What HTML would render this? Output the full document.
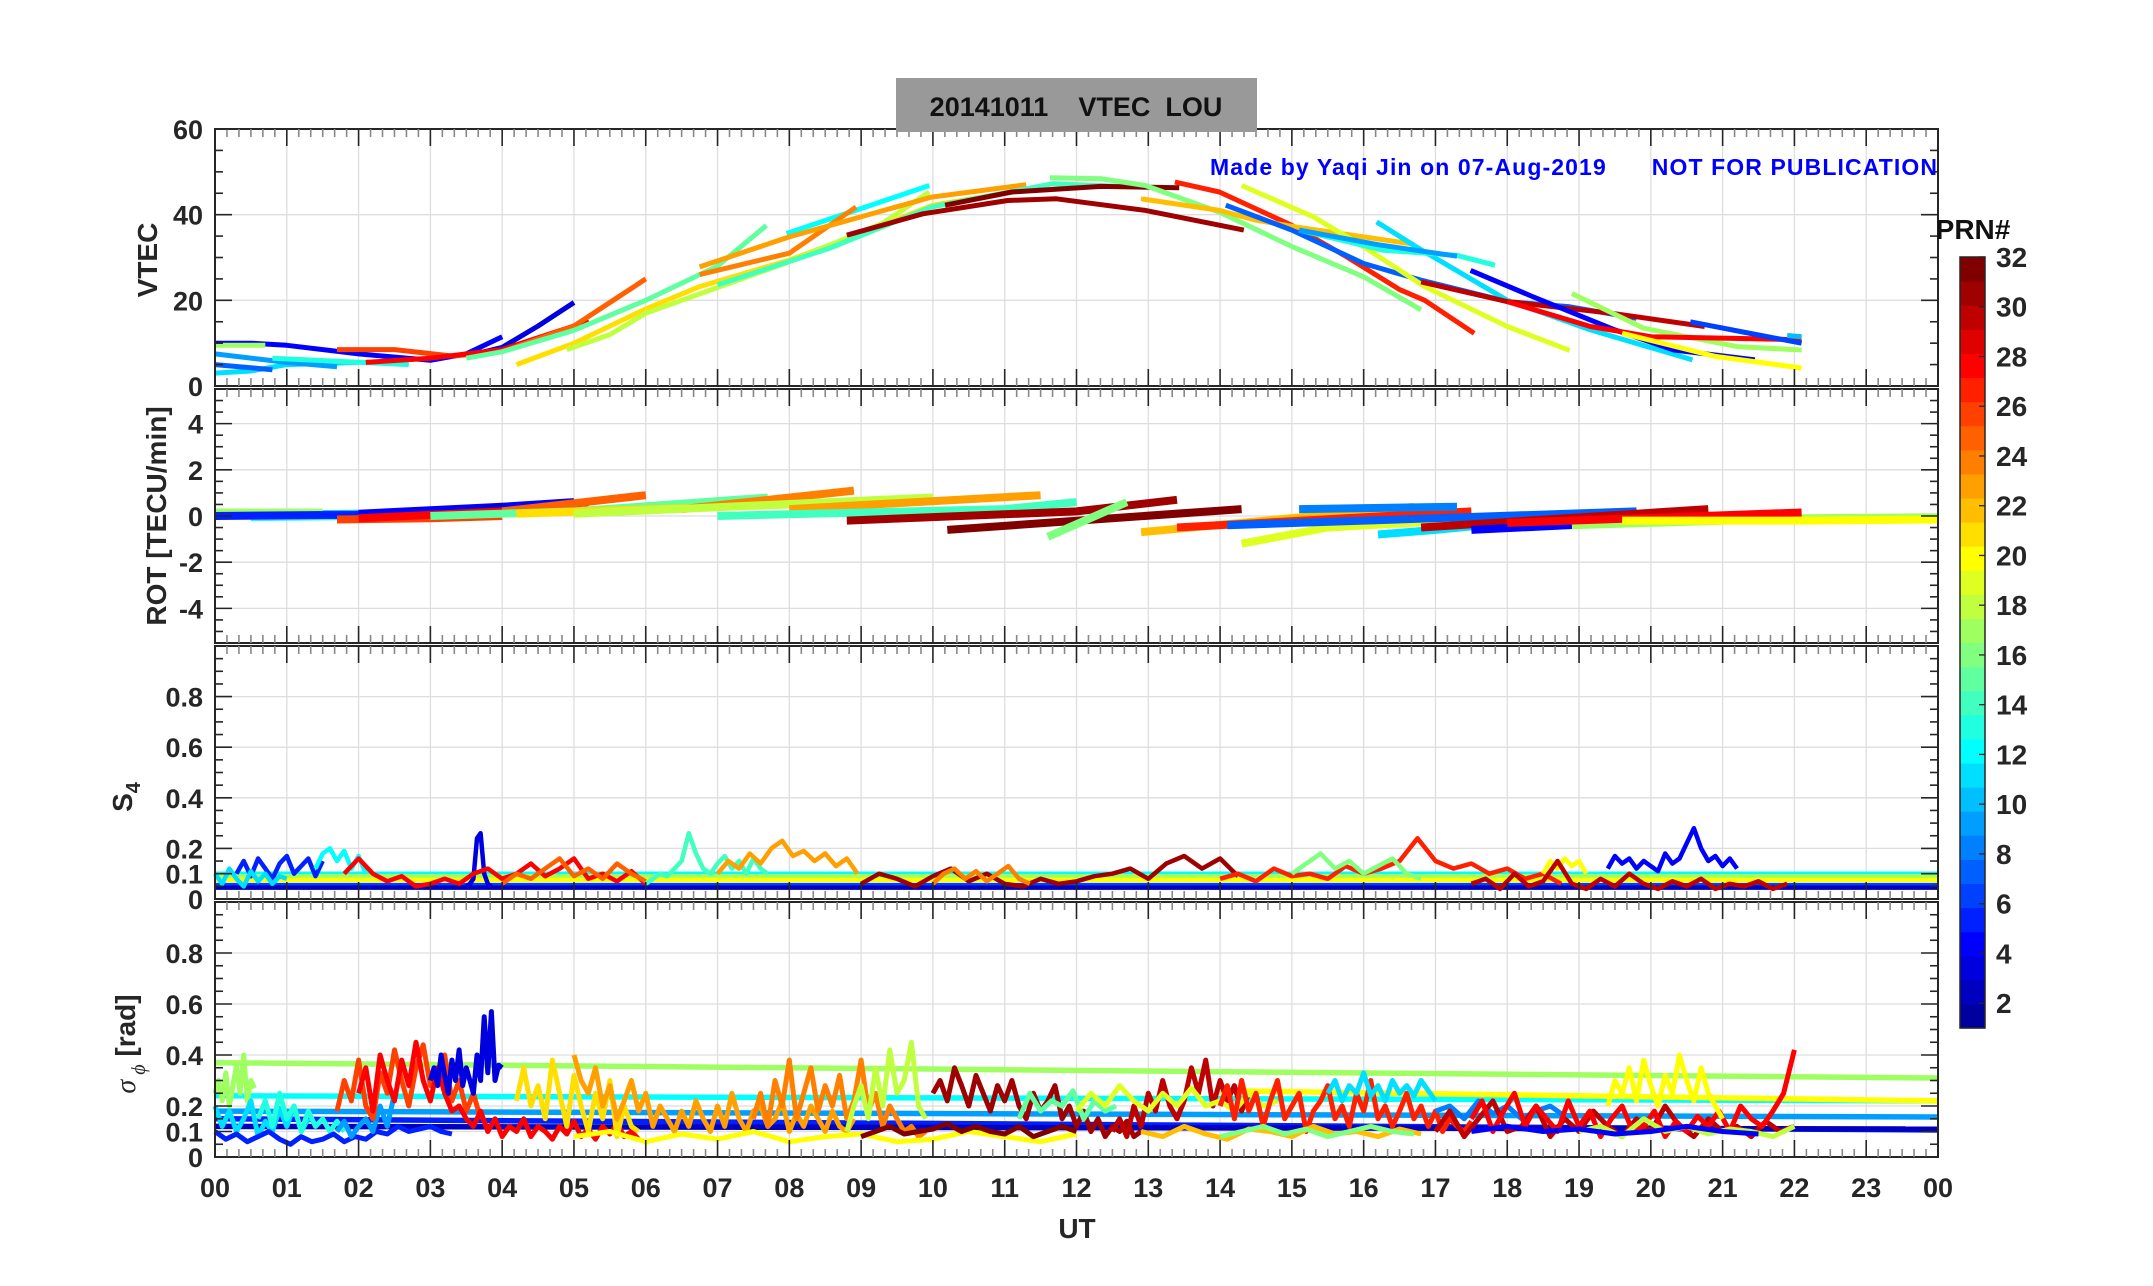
<!DOCTYPE html>
<html><head><meta charset="utf-8"><style>
html,body{margin:0;padding:0;background:#fff;}
svg{display:block;font-family:"Liberation Sans",Arial,sans-serif;}
</style></head><body>
<svg id="fig" width="2153" height="1286" viewBox="0 0 2153 1286" xmlns="http://www.w3.org/2000/svg">
<rect x="0" y="0" width="2153" height="1286" fill="#fff"/>
<g id="grid"></g><g id="series"></g><g id="axes"></g>
<rect x="896" y="78" width="361" height="54" fill="#999999"/>
<text x="1076" y="116" text-anchor="middle" font-size="27" font-weight="bold" fill="#111" xml:space="preserve">20141011    VTEC  LOU</text>
<text x="1937" y="175" text-anchor="end" font-size="23" font-weight="bold" fill="#0000ff" xml:space="preserve" textLength="727">Made by Yaqi Jin on 07-Aug-2019      NOT FOR PUBLICATION</text>
<text x="1973" y="239" text-anchor="middle" font-size="28" font-weight="bold" fill="#111">PRN#</text>
<g id="cbar"></g>
<text transform="translate(157,260) rotate(-90)" text-anchor="middle" font-size="28" font-weight="bold" fill="#262626">VTEC</text>
<text transform="translate(166,516) rotate(-90)" text-anchor="middle" font-size="28" font-weight="bold" fill="#262626">ROT [TECU/min]</text>
<text transform="translate(132,797) rotate(-90)" text-anchor="middle" font-size="28" font-weight="bold" fill="#262626">S<tspan font-size="20" dy="8">4</tspan></text>
<text transform="translate(135,1044) rotate(-90)" text-anchor="middle" font-size="28" font-weight="bold" fill="#262626"><tspan font-family="Liberation Serif,serif" font-style="italic" font-weight="normal">σ</tspan><tspan font-size="20" dy="10" font-family="Liberation Serif,serif" font-style="italic" font-weight="normal"> ϕ</tspan><tspan dy="-10"> [rad]</tspan></text>
<text x="1077" y="1238" text-anchor="middle" font-size="28" font-weight="bold" fill="#262626">UT</text>
</svg>
<script>
const hourTicks=["00","01","02","03","04","05","06","07","08","09","10","11","12","13","14","15","16","17","18","19","20","21","22","23","00"];
const vtecTicks=[0,20,40,60];
const rotTicks=[-4,-2,0,2,4];
const s4Ticks=[0,0.1,0.2,0.4,0.6,0.8];
const sigTicks=[0,0.1,0.2,0.4,0.6,0.8];
const cbarLabels=[2,4,6,8,10,12,14,16,18,20,22,24,26,28,30,32];

const vtecPrn=[4,3,17,11,9,7,13,26,28,25,15,21,18,12,24,23,14,27,31,32,16,22,7,19,11,13,9,8,30,4,17,28,20,6,10];
const vtecPts=[
[[0,10],[0.5,10],[1,9.5],[2,7.5],[3,6],[3.5,7.5],[4,11.5]],
[[3.5,7],[4,9],[4.5,14],[5,19.5]],
[[0,9.5],[0.7,9.5]],
[[0,3],[0.5,3.5],[1,5],[2,5.5]],
[[0,7.5],[1,5.5],[1.7,4.5]],
[[0,5],[0.8,3.8]],
[[0.8,6.5],[2.7,5]],
[[1.7,8.5],[2.5,8.5],[3.3,7],[4,8]],
[[2.1,5.5],[3,6.5],[4,8.5],[5,14],[5.2,15.5]],
[[4,8],[5,14],[6,25]],
[[3.5,6.5],[4,8],[5,13],[6,20],[7,28],[7.68,37.5]],
[[4.2,5],[5,10],[6,18],[6.75,23.2],[8,29.4],[9,35.6],[10,42.2],[11.5,46.4]],
[[4.9,8.5],[5.5,12],[6,17],[7,23],[8,29],[9.3,38],[9.95,45.3]],
[[7.96,35.6],[9.1,42],[9.95,46.8]],
[[6.75,26],[8,31],[8.93,41.8]],
[[6.75,27.8],[8,34.8],[9.98,44.1],[11.3,47]],
[[7,23.6],[8.55,32.1],[9.98,41.8],[11.66,47.2],[12.96,46.4]],
[[13.37,47.6],[13.99,45.3],[15,37.5],[15.76,30.2],[16.5,22.5],[16.85,20],[17.54,12.3]],
[[8.8,35.2],[9.86,40.2],[11.04,43.3],[11.72,43.7],[12.96,41],[14.33,36.4]],
[[10.17,42.2],[11.1,45.3],[12.34,46.6],[13.43,46.3]],
[[11.63,48.6],[12.34,48.4],[12.96,46.8],[13.99,40.6],[15.01,32.5],[16,25.5],[16.8,17.8]],
[[12.9,43.7],[13.99,41],[14.5,38.7],[15.1,37],[16.7,33.1]],
[[14.08,42.2],[15,36.4],[16,28.6],[16.8,24.7],[18,19.7],[18.87,18.5],[19.8,15.8]],
[[14.3,46.8],[15.3,39.5],[16,32.5],[16.85,23.2],[18,13.9],[18.87,8.3]],
[[16.18,38.3],[16.73,32.5],[18,20],[19.16,13.1],[20.58,6.1]],
[[15.1,36.4],[16.27,31.7],[17.3,30.5],[17.83,28.2]],
[[15.1,36.4],[16.2,33],[17.3,30.3]],
[[17.3,30.3],[17.3,30.3]],
[[16.8,24.3],[18,19.7],[19.45,17],[20.75,13.9]],
[[17.49,27],[18.35,20.9],[19.5,13.1],[20.32,8.4],[21.45,6.1]],
[[18.9,21.6],[19.9,13.5],[21.2,9.2],[22.1,8.4]],
[[18,19.7],[19.16,13.9],[20,11.5],[22.1,10.8]],
[[19.6,12.3],[20.9,6.9],[22.1,4.2]],
[[20.55,15],[21.5,11.9],[22.1,10]],
[[21.9,11.8],[22.1,11.5]]
];

const rotPrn=[11,17,13,5,4,3,26,28,25,15,21,24,18,23,14,31,32,16,22,27,19,7,11,8,30,4,17,28,20];
const rotPts=[
[[0,0.05],[2,0.1]],[[0,0.15],[1.5,0.15]],[[0.5,-0.05],[2,0]],[[0,0],[2,0.05],[3,0.15]],
[[2,0.1],[4,0.4],[5,0.6]],[[3.5,0.2],[4,0.4]],
[[1.7,-0.15],[3,-0.1],[4,0]],[[2,-0.1],[4,0.2],[5.2,0.6]],[[4,0.2],[6,0.9]],
[[3,0],[5,0.2],[7.7,0.8]],[[4.2,0.1],[8,0.5]],[[6.5,0.3],[8.9,1.1]],[[5,0.1],[10,0.8]],
[[8,0.3],[11.5,0.9]],[[7,0],[11,0.3],[12,0.6]],[[8.8,-0.2],[12,0.2],[13.4,0.7]],
[[10.2,-0.6],[14.3,0.3]],[[11.6,-0.9],[12.7,0.6]],[[12.9,-0.7],[16.7,0.4]],
[[13.4,-0.5],[17.5,0.2]],[[14.3,-1.2],[15.5,-0.5],[18.9,0.1]],[[14.1,-0.4],[19.8,0.2]],
[[16.2,-0.8],[17,-0.6],[18,-0.3],[20.6,0.2]],[[15.1,0.3],[17.3,0.4]],[[16.8,-0.5],[20.8,0.3]],
[[17.5,-0.6],[21.5,0]],[[18.9,-0.4],[22.1,-0.1],[24,-0.05]],[[18,-0.3],[22.1,0.15]],[[19.6,-0.2],[22.1,-0.2],[24,-0.15]]
];

const s4LinePrn=[12,17,20,6,2];
const s4LineVal=[0.1,0.09,0.075,0.055,0.045];
const s4Prn=[5,11,12,3,28,25,14,23,31,24,27,16,20,4,30];
const s4T0=[0.3,0,1.4,3.5,1.8,4,6,7,9,10,14,15,18.5,19.4,17.5];
const s4Dt=[0.1,0.1,0.1,0.05,0.2,0.2,0.1,0.15,0.25,0.15,0.25,0.2,0.1,0.1,0.2];
const s4Val=[
[0.1,0.15,0.09,0.16,0.12,0.08,0.14,0.17,0.1,0.13,0.16,0.09,0.15],
[0.1,0.06,0.12,0.08,0.05,0.11,0.07,0.1,0.06,0.09,0.08],
[0.12,0.18,0.2,0.15,0.19,0.12,0.17,0.1],
[0.05,0.06,0.08,0.24,0.26,0.1,0.06,0.05],
[0.1,0.16,0.1,0.07,0.09,0.05,0.06,0.08,0.06,0.1,0.12,0.08,0.1,0.14,0.09,0.12,0.16,0.08,0.1,0.07,0.11,0.06],
[0.06,0.1,0.08,0.12,0.16,0.09,0.12,0.08,0.14,0.1,0.07],
[0.06,0.08,0.1,0.09,0.12,0.15,0.26,0.18,0.12,0.1,0.14,0.17,0.12,0.15,0.1,0.16,0.12,0.1],
[0.1,0.15,0.12,0.18,0.14,0.2,0.23,0.17,0.19,0.15,0.18,0.13,0.16,0.1],
[0.06,0.1,0.08,0.05,0.09,0.12,0.07,0.1,0.06,0.05,0.08,0.06,0.07,0.09,0.1,0.12,0.08,0.14,0.17,0.12,0.16,0.09],
[0.06,0.1,0.12,0.08,0.11,0.07,0.1,0.13,0.08,0.06],
[0.08,0.1,0.07,0.12,0.09,0.1,0.08,0.13,0.1,0.12,0.15,0.24,0.15,0.12,0.14,0.1,0.12,0.08,0.1,0.06],
[0.1,0.14,0.18,0.12,0.15,0.1,0.13,0.16,0.1,0.08],
[0.1,0.15,0.12,0.16,0.13,0.15,0.1],
[0.12,0.17,0.14,0.16,0.12,0.15,0.13,0.11,0.18,0.14,0.16,0.22,0.28,0.2,0.15,0.17,0.13,0.16,0.12],
[0.06,0.08,0.04,0.1,0.05,0.07,0.15,0.06,0.04,0.08,0.05,0.1,0.06,0.04,0.07,0.05,0.08,0.04,0.06,0.05,0.07,0.04,0.06]
];

const sigLinePrn=[17,12,9,5,2];
const sigLineStart=[0.37,0.24,0.18,0.15,0.12];
const sigLineEnd=[0.31,0.22,0.157,0.106,0.11];
const sigYellowLine=[[14,0.26],[24,0.22]];
const sigPrn=[17,11,13,5,9,26,28,3,21,23,24,18,20,31,32,30,15,19,27,11,22,16,8,30,28,20,18,4];
const sigT0=[0,0,0.6,0,1.7,1.7,2,3,4.2,5,7.5,8.8,5,10,9,12.5,11.2,12,14,15.5,12.9,14,17,17,17.5,19.4,19,17.5];
const sigDt=[0.05,0.1,0.1,0.15,0.1,0.1,0.1,0.05,0.1,0.1,0.1,0.1,0.5,0.1,0.2,0.1,0.15,0.2,0.1,0.1,0.3,0.3,0.2,0.2,0.15,0.1,0.3,0.5];
const sigVal=[
[0.25,0.3,0.22,0.33,0.2,0.28,0.36,0.25,0.4,0.22,0.3,0.27],
[0.2,0.12,0.18,0.1,0.15,0.22,0.08,0.14,0.1,0.19,0.12,0.2,0.1,0.15],
[0.15,0.22,0.12,0.25,0.15,0.2,0.1,0.18,0.12,0.15,0.1,0.14,0.1],
[0.1,0.07,0.09,0.06,0.08,0.1,0.07,0.05,0.08,0.06,0.07,0.09,0.06,0.08,0.07,0.1,0.09,0.12,0.1,0.11,0.12,0.1,0.09],
[0.1,0.14,0.08,0.12,0.15,0.1,0.2,0.12,0.25],
[0.18,0.3,0.22,0.38,0.2,0.15,0.33,0.25,0.42,0.3,0.2,0.35,0.44,0.28,0.32,0.4,0.22,0.3,0.18,0.25,0.15],
[0.25,0.35,0.18,0.4,0.3,0.22,0.38,0.28,0.45,0.3,0.22,0.35,0.25,0.18,0.2,0.15,0.12,0.18,0.1,0.15,0.08,0.12,0.1,0.15,0.08,0.12,0.1,0.07,0.12,0.09,0.14,0.08,0.11,0.07,0.12,0.09,0.13,0.08,0.1,0.07],
[0.3,0.35,0.28,0.4,0.32,0.25,0.38,0.3,0.42,0.28,0.35,0.3,0.25,0.4,0.3,0.55,0.33,0.57,0.3,0.36,0.35],
[0.22,0.35,0.2,0.28,0.15,0.38,0.25,0.12,0.32,0.2,0.1,0.25,0.15,0.3,0.08,0.2,0.12,0.1],
[0.4,0.3,0.25,0.35,0.2,0.28,0.15,0.22,0.3,0.18,0.25,0.12,0.2,0.15,0.1,0.18,0.12,0.22,0.15,0.1,0.2,0.12,0.25,0.15,0.1,0.18,0.2,0.12,0.15,0.22,0.1,0.17,0.12,0.2,0.15,0.1,0.18,0.12,0.1,0.15],
[0.15,0.25,0.12,0.3,0.2,0.38,0.15,0.25,0.35,0.18,0.28,0.2,0.32,0.15,0.22,0.38,0.18,0.25,0.12,0.2,0.15,0.1,0.12,0.08,0.1],
[0.1,0.2,0.28,0.15,0.35,0.2,0.42,0.25,0.3,0.45,0.2,0.15],
[0.08,0.1,0.06,0.09,0.07,0.1,0.06,0.08,0.09,0.06,0.07,0.1,0.08,0.06,0.09],
[0.25,0.3,0.22,0.35,0.28,0.2,0.32,0.25,0.18,0.28,0.22,0.3,0.2,0.15,0.25,0.18,0.22,0.28,0.15,0.2,0.12,0.18,0.1,0.15,0.08,0.12,0.1,0.14,0.08,0.1],
[0.08,0.1,0.12,0.09,0.1,0.11,0.13,0.1,0.12,0.1,0.09,0.12,0.08,0.1,0.12,0.1],
[0.1,0.15,0.08,0.2,0.12,0.25,0.18,0.3,0.2,0.15,0.22,0.35,0.25,0.38,0.2,0.3,0.22,0.28,0.18,0.25],
[0.15,0.25,0.18,0.22,0.2,0.26,0.15,0.22,0.18,0.2],
[0.18,0.25,0.2,0.28,0.22,0.18,0.25,0.2,0.27,0.2,0.22,0.18,0.25,0.2,0.22],
[0.2,0.28,0.15,0.3,0.18,0.25,0.12,0.22,0.3,0.15,0.2,0.25,0.1,0.18,0.22,0.28,0.15,0.2,0.12,0.25,0.18,0.3,0.15,0.2,0.12,0.18,0.25,0.15,0.2,0.12,0.18,0.1,0.15,0.12,0.1,0.14],
[0.25,0.3,0.22,0.28,0.25,0.33,0.24,0.28,0.22,0.3,0.25,0.28,0.24,0.3,0.26,0.22],
[0.1,0.08,0.12,0.09,0.07,0.11,0.1,0.08,0.12,0.09,0.1,0.08,0.11,0.09],
[0.08,0.1,0.12,0.09,0.11,0.08,0.1,0.12,0.1,0.09],
[0.18,0.2,0.15,0.22,0.17,0.2,0.15,0.18,0.2,0.16],
[0.1,0.18,0.08,0.15,0.22,0.1,0.12,0.2,0.08,0.15,0.1,0.18,0.12,0.08,0.15,0.1,0.2,0.12,0.08,0.15,0.1,0.12,0.08,0.14,0.1,0.12],
[0.15,0.22,0.1,0.18,0.25,0.12,0.2,0.15,0.1,0.22,0.12,0.18,0.08,0.15,0.2,0.1,0.12,0.18,0.08,0.14,0.1,0.16,0.12,0.18,0.1,0.2,0.15,0.12,0.18,0.25,0.42],
[0.2,0.3,0.25,0.35,0.22,0.38,0.28,0.2,0.32,0.25,0.4,0.3,0.22,0.35,0.25,0.2,0.15],
[0.1,0.12,0.08,0.15,0.1,0.12,0.09,0.11,0.1,0.08,0.12],
[0.1,0.12,0.1,0.11,0.09,0.1,0.12,0.1,0.09]
];

const NS="http://www.w3.org/2000/svg";
const X0=215, X1=1938;
const panels=[
 {name:"vtec",top:129,bot:386,min:0,max:60,ticks:vtecTicks,minor:5},
 {name:"rot",top:389,bot:643,min:-5.5,max:5.5,ticks:rotTicks,minor:0.5},
 {name:"s4",top:646,bot:899,min:0,max:1,ticks:s4Ticks,minor:0.05},
 {name:"sigma",top:902,bot:1157,min:0,max:1,ticks:sigTicks,minor:0.05}
];
function xS(h){return X0+h*(X1-X0)/24;}
function yS(p,v){return p.bot-(v-p.min)*(p.bot-p.top)/(p.max-p.min);}
function jet(k){
 function u(j){if(j<1||j>23)return 0;if(j<=8)return j/8;if(j<=15)return 1;return (24-j)/8;}
 const r=k>=13?u(k-12):0, g=u(k-4), b=u(k+4);
 return "rgb("+Math.round(r*255)+","+Math.round(g*255)+","+Math.round(b*255)+")";
}
function mk(tag,attrs,parent){const e=document.createElementNS(NS,tag);for(const k in attrs)e.setAttribute(k,attrs[k]);parent.appendChild(e);return e;}
const gGrid=document.getElementById("grid"), gSer=document.getElementById("series"), gAx=document.getElementById("axes");

panels.forEach(p=>{
 for(let h=1;h<24;h++){const l=mk("line",{x1:xS(h),x2:xS(h),y1:p.top,y2:p.bot,stroke:"#dedede","stroke-width":1.3},gGrid);
  
  }
 p.ticks.forEach(t=>{if(t===p.min)return;const l=mk("line",{x1:X0,x2:X1,y1:yS(p,t),y2:yS(p,t),stroke:"#dedede","stroke-width":1.3},gGrid);
  
  });
 const box=mk("rect",{x:X0,y:p.top,width:X1-X0,height:p.bot-p.top,fill:"none",stroke:"#262626","stroke-width":2},gAx);
 
 
 for(let i=0;i<=144;i++){const x=X0+i*(X1-X0)/144;const maj=i%6===0;const len=maj?17:8;const c=maj?"#262626":"#888";
  mk("line",{x1:x,x2:x,y1:p.bot,y2:p.bot-len,stroke:c,"stroke-width":1.6},gAx);
  mk("line",{x1:x,x2:x,y1:p.top,y2:p.top+len,stroke:c,"stroke-width":1.6},gAx);}
 const n=Math.round((p.max-p.min)/p.minor);
 for(let i=0;i<=n;i++){const v=p.min+i*p.minor;const maj=p.ticks.some(t=>Math.abs(t-v)<1e-6);const y=yS(p,v);const len=maj?17:8;
  mk("line",{x1:X0,x2:X0+len,y1:y,y2:y,stroke:"#262626","stroke-width":1.6},gAx);
  mk("line",{x1:X1,x2:X1-len,y1:y,y2:y,stroke:"#262626","stroke-width":1.6},gAx);}
 p.ticks.forEach(t=>{const tx=mk("text",{x:X0-12,y:yS(p,t)+10,"text-anchor":"end","font-size":27,"font-weight":"bold",fill:"#262626"},gAx);
  tx.textContent=String(t);
  
  });
});
hourTicks.forEach((s,i)=>{const tx=mk("text",{x:xS(i),y:1197,"text-anchor":"middle","font-size":27,"font-weight":"bold",fill:"#262626"},gAx);
 tx.textContent=s;
 
 });

function poly(p,pts,prn,w,name){
 const d=pts.map(q=>xS(q[0]).toFixed(1)+","+yS(p,q[1]).toFixed(1)).join(" ");
 const e=mk("polyline",{points:d,fill:"none",stroke:jet(prn),"stroke-width":w,"stroke-linejoin":"round","stroke-linecap":"butt"},gSer);
 
 
}
function seq(t0,dt,vals){return vals.map((v,i)=>[t0+i*dt,v]);}

s4LinePrn.forEach((prn,i)=>poly(panels[2],[[0,s4LineVal[i]],[24,s4LineVal[i]]],prn,4.5,'s4-baseline-prn'+prn));
sigLinePrn.forEach((prn,i)=>poly(panels[3],[[0,sigLineStart[i]],[24,sigLineEnd[i]]],prn,5.5,'sigma-baseline-prn'+prn));
poly(panels[3],sigYellowLine,20,5.5,'sigma-baseline-prn20');
vtecPrn.forEach((prn,i)=>poly(panels[0],vtecPts[i],prn,5,'vtec-line-prn'+prn));
rotPrn.forEach((prn,i)=>poly(panels[1],rotPts[i],prn,8,'rot-line-prn'+prn));
s4Prn.forEach((prn,i)=>poly(panels[2],seq(s4T0[i],s4Dt[i],s4Val[i]),prn,4.5,'s4-line-prn'+prn));
sigPrn.forEach((prn,i)=>poly(panels[3],seq(sigT0[i],sigDt[i],sigVal[i]),prn,5,'sigma-line-prn'+prn));

const gC=document.getElementById("cbar");
const cTop=257,cBot=1028,cX=1960,cW=25;
for(let k=1;k<=32;k++){const h=(cBot-cTop)/32;const r=mk("rect",{x:cX,y:cBot-k*h,width:cW,height:h+0.6,fill:jet(k)},gC);
 
 }
const cb=mk("rect",{x:cX,y:cTop,width:cW,height:cBot-cTop,fill:"none",stroke:"#262626","stroke-width":1.5},gC);


function cY(v){return cBot-(v-1)*(cBot-cTop)/31;}
cbarLabels.forEach(v=>{const y=cY(v);
 mk("line",{x1:cX+cW,x2:cX+cW-6,y1:y,y2:y,stroke:"#262626","stroke-width":1.3},gC);
 const t=mk("text",{x:1996,y:y+10,"font-size":28,"font-weight":"bold",fill:"#262626"},gC);
 t.textContent=String(v);
 
 });
</script>
</body></html>
